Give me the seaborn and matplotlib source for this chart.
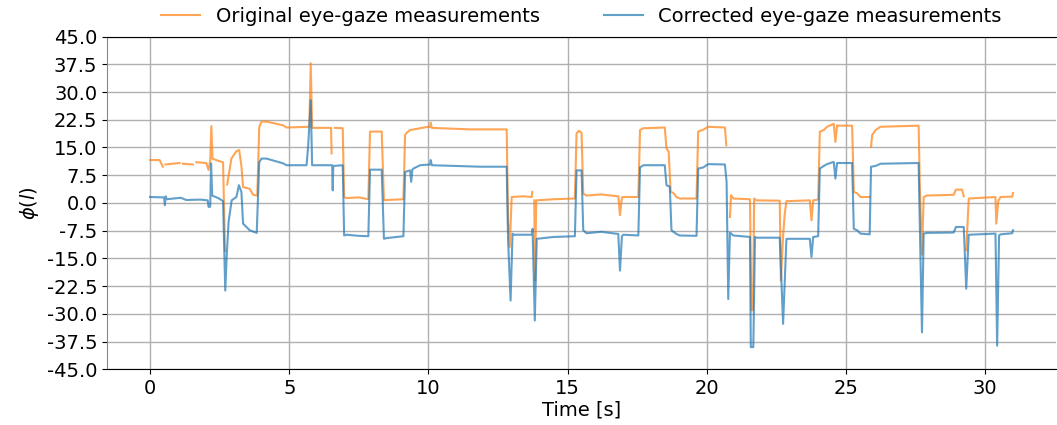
import matplotlib
matplotlib.use('Agg')
import matplotlib.pyplot as plt
import pandas as pd
import seaborn as sns
import numpy as np

nan = np.nan

# Original eye-gaze measurements (time [s], phi)
orig_t = [0.0, 0.34, 0.46, 0.50, 0.55, 1.06, 1.10, 1.18, 1.54, 1.60, 1.66, 2.02, 2.10, 2.16, 2.20, 2.24,
          2.44, 2.62, 2.69, 2.73, 2.77, 2.92, 3.10, 3.20, 3.28, 3.34, 3.58, 3.70, 3.85, 3.92, 4.00,
          4.18, 4.78, 4.90, 5.72, 5.77, 5.82, 6.50, 6.52, 6.56, 6.64, 6.92, 6.97, 7.06, 7.50, 7.84,
          7.90, 8.32, 8.40, 8.50, 9.10, 9.16, 9.22, 9.34, 9.70, 10.00, 10.06, 10.08, 10.12, 10.80,
          11.50, 12.81, 12.86, 12.92, 12.99, 13.40, 13.71, 13.73, 13.76, 13.80, 13.83, 13.87, 13.89,
          14.50, 15.26, 15.32, 15.40, 15.50, 15.56, 15.68, 16.20, 16.82, 16.88, 16.95, 17.00, 17.54,
          17.60, 17.72, 18.49, 18.55, 18.63, 18.70, 18.80, 18.91, 19.03, 19.63, 19.69, 19.87, 20.05,
          20.65, 20.70, 20.73, 20.83, 20.87, 20.95, 21.55, 21.60, 21.66, 21.70, 21.78, 22.62, 22.66,
          22.74, 22.80, 22.86, 22.98, 23.70, 23.76, 23.82, 24.00, 24.06, 24.20, 24.32, 24.56, 24.62,
          24.68, 24.74, 25.22, 25.28, 25.40, 25.52, 25.85, 25.88, 25.90, 25.94, 26.06, 26.24, 27.61,
          27.65, 27.73, 27.79, 27.91, 28.87, 28.95, 29.17, 29.23, 29.27, 29.32, 29.41, 30.37, 30.40,
          30.47, 30.55, 30.97, 31.00]
orig_v = [11.6, 11.6, 9.8, nan, 10.4, 10.8, nan, 10.6, 10.4, nan, 11.0, 10.8, 8.9, 11.5, 20.8, 12.0,
          11.4, 11.0, -13.0, nan, 5.0, 12.0, 14.0, 14.3, 10.0, 4.3, 3.8, 2.2, 2.0, 20.5, 22.0,
          22.0, 21.0, 20.4, 20.6, 37.8, 20.3, 20.3, 13.4, nan, 20.3, 20.2, 1.6, 1.3, 1.5, 1.0,
          19.3, 19.3, 0.7, 0.8, 1.0, 18.4, 19.0, 19.7, 20.2, 20.6, 20.5, 21.7, 20.3, 20.1,
          19.9, 19.9, -5.0, -11.9, 1.6, 1.8, 1.6, 3.0, nan, 0.7, -21.0, 0.7, 0.7,
          1.0, 1.2, 18.8, 19.5, 19.0, 2.5, 2.0, 2.3, 1.8, -3.3, 1.5, 1.6, 1.6,
          19.7, 20.2, 20.4, 14.8, 13.8, 3.0, 2.7, 1.6, 1.2, 1.2, 19.3, 19.8, 20.6,
          20.4, 15.6, nan, -3.8, 2.1, 1.2, 1.0, -29.0, -29.0, 1.2, 0.7, 0.6, -21.0,
          -9.0, -2.9, 0.5, 0.5, 0.7, -4.7, 0.7, 0.9, 19.3, 19.7, 20.6, 21.4, 16.5,
          21.0, 20.9, 20.9, 3.0, 2.6, 1.6, 1.6, nan, 15.2, 18.4, 19.7, 20.6, 20.9,
          5.2, -14.0, 1.6, 2.0, 2.2, 3.6, 3.6, 1.8, nan, -12.8, 1.2, 1.6, -5.6,
          0.5, 1.6, 1.7, 2.7]

# Corrected eye-gaze measurements (time [s], phi)
corr_t = [0.0, 0.50, 0.53, 0.56, 0.60, 1.10, 1.30, 1.80, 2.07, 2.10, 2.16, 2.19, 2.23, 2.45, 2.62,
          2.70, 2.75, 2.82, 2.93, 3.10, 3.19, 3.28, 3.34, 3.58, 3.83, 3.92, 4.00, 4.18, 4.78, 4.90,
          5.62, 5.68, 5.77, 5.82, 6.54, 6.56, 6.58, 6.92, 6.97, 7.06, 7.50, 7.84, 7.90, 8.32, 8.40,
          8.50, 9.10, 9.16, 9.34, 9.38, 9.42, 9.46, 9.70, 10.06, 10.08, 10.12, 11.00, 11.85, 12.81,
          12.86, 12.95, 13.02, 13.05, 13.71, 13.74, 13.82, 13.89, 14.50, 15.26, 15.32, 15.50, 15.56,
          15.68, 16.20, 16.82, 16.88, 16.95, 17.00, 17.54, 17.60, 17.72, 18.49, 18.55, 18.67, 18.73,
          18.91, 19.03, 19.63, 19.69, 19.87, 20.05, 20.65, 20.71, 20.77, 20.83, 20.95, 21.55, 21.58,
          21.67, 21.73, 21.78, 22.62, 22.68, 22.74, 22.86, 23.70, 23.76, 23.82, 24.00, 24.06, 24.20,
          24.32, 24.56, 24.62, 24.68, 25.22, 25.28, 25.40, 25.52, 25.85, 25.90, 26.06, 26.24, 27.61,
          27.65, 27.73, 27.79, 27.91, 28.87, 28.95, 29.23, 29.32, 29.41, 30.37, 30.43, 30.50, 30.55,
          30.97, 31.00]
corr_v = [1.6, 1.5, -0.6, 1.8, 1.0, 1.4, 0.8, 0.9, 0.7, -1.1, -1.0, 10.7, 2.0, 1.3, 0.5,
          -23.7, -14.6, -5.0, 0.7, 1.6, 4.8, 3.0, -5.6, -7.4, -8.1, 11.0, 12.0, 12.0, 10.7, 10.2,
          10.2, 15.6, 27.8, 10.2, 10.2, 3.4, 10.0, 10.2, -8.8, -8.6, -8.9, -9.0, 9.0, 9.0, -9.7,
          -9.5, -9.0, 8.4, 8.8, 5.7, 9.0, 9.3, 10.2, 10.4, 11.6, 10.2, 10.0, 9.8, 9.8,
          -10.0, -26.4, -8.3, -8.6, -8.6, -7.0, -31.8, -9.7, -9.2, -9.0, 8.8, 8.8, -7.4,
          -8.2, -7.8, -8.4, -18.3, -9.0, -8.6, -8.8, 9.6, 10.2, 10.2, 4.8, 4.4, -7.4,
          -8.4, -8.8, -8.9, 9.3, 9.6, 10.5, 10.4, 5.7, -26.0, -8.0, -8.8, -9.2, -39.0,
          -39.0, -9.2, -9.4, -9.4, -21.0, -32.7, -9.7, -9.7, -14.6, -9.2, -9.0, 9.3, 10.0,
          10.5, 11.1, 6.6, 10.8, 10.8, -7.0, -7.4, -8.3, -8.5, 9.8, 10.0, 10.6, 10.8,
          -5.2, -35.0, -8.3, -8.1, -8.0, -6.5, -6.5, -23.2, -8.6, -8.3, -38.6, -8.8, -8.5,
          -8.2, -7.4]

series_names = ['Original eye-gaze measurements', 'Corrected eye-gaze measurements']
yticks = np.arange(-45, 45.1, 7.5)


def to_frame(t, v, name):
    d = pd.DataFrame({'t': t, 'v': v})
    d['seg'] = name + '_' + d['v'].isna().cumsum().astype(str)
    d['series'] = name
    return d.dropna()


df = pd.concat([to_frame(orig_t, orig_v, series_names[0]),
                to_frame(corr_t, corr_v, series_names[1])], ignore_index=True)

fig = plt.figure(figsize=(10.57, 4.25), dpi=100)
ax = fig.add_axes([0.1012, 0.131, 0.898, 0.783])
sns.lineplot(data=df, x='t', y='v', hue='series', hue_order=series_names,
             palette=['tab:orange', 'tab:blue'], units='seg', estimator=None,
             sort=False, alpha=0.7, linewidth=1.5, ax=ax)

ax.set_ylim(-45, 45)
ax.set_yticks(yticks)
ax.set_yticklabels([f'{y:.1f}' for y in yticks])
ax.set_xticks([0, 5, 10, 15, 20, 25, 30])
ax.tick_params(labelsize=14)
ax.grid(True, color='#b0b0b0', linewidth=1)
ax.set_xlabel('Time [s]', fontsize=14, labelpad=2)
ax.set_ylabel(r'$\phi(l)$', fontsize=14)
ax.spines['left'].set_color('#888888')
ax.spines['right'].set_visible(False)

handles, labels = ax.get_legend_handles_labels()
ax.legend(handles, labels, loc='lower center', bbox_to_anchor=(0.5, 0.98), ncol=2,
          frameon=False, fontsize=14, columnspacing=3.3)

fig.savefig('out.png', dpi=100)
